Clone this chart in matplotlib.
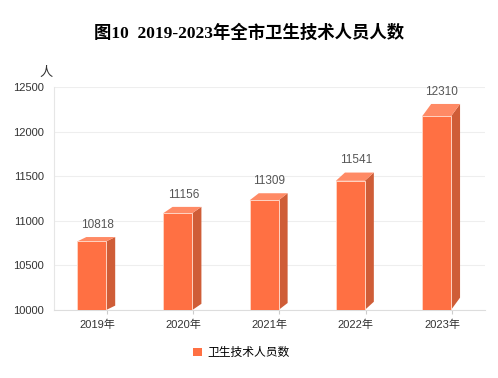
import matplotlib
matplotlib.use("Agg")
import matplotlib.pyplot as plt
from matplotlib.patches import Polygon, Patch

plt.rcParams['font.family'] = ['Liberation Sans', 'Noto Sans CJK SC']

# 数据
years = ['2019年', '2020年', '2021年', '2022年', '2023年']
staff = [10818, 11156, 11309, 11541, 12310]
title = '图10  2019-2023年全市卫生技术人员人数'
series_name = '卫生技术人员数'
yticks = [10000, 10500, 11000, 11500, 12000, 12500]

# 颜色
c_front = '#ff7043'
c_top = '#ff8a65'
c_side = '#cf5d37'

fig = plt.figure(figsize=(4.98, 3.78), dpi=100)
ax = fig.add_axes([0.1084, 0.1799, 0.8656, 0.5899])

ymin, ymax = 10000, 12500
x_left, x_right = -0.23, 0.105   # 正面相对类目中心
dx = 0.105                        # 侧面深度
for i, v in enumerate(staff):
    dy = 0.06 * (v - ymin)        # 顶面深度
    xl, xr = i + x_left, i + x_right
    vf = v - dy
    # 侧面
    ax.add_patch(Polygon([(xr, ymin), (xr, vf), (xr + dx, v), (xr + dx, ymin + dy)],
                         closed=True, facecolor=c_side, edgecolor='none', zorder=3))
    # 顶面
    ax.add_patch(Polygon([(xl, vf), (xr, vf), (xr + dx, v), (xl + dx, v)],
                         closed=True, facecolor=c_top, edgecolor='none', zorder=3))
    # 正面
    ax.add_patch(Polygon([(xl, ymin), (xl, vf), (xr, vf), (xr, ymin)],
                         closed=True, facecolor=c_front, edgecolor='#ffd3c2',
                         linewidth=0.7, zorder=4))
    ax.text(i, v + 70, str(v), ha='center', va='bottom', fontsize=8.5,
            color='#555555', zorder=5)

ax.set_xlim(-0.5, len(years) - 0.5)
ax.set_ylim(ymin, ymax)
ax.set_yticks(yticks)
ax.set_yticklabels([str(t) for t in yticks], fontsize=8, color='#333333')
ax.set_xticks(range(len(years)))
ax.set_xticklabels(years, fontsize=8, color='#333333')
ax.tick_params(axis='y', length=0, pad=7)
ax.tick_params(axis='x', length=0, pad=7)
ax.set_xticks([i + 0.115 for i in range(len(years))], minor=True)
ax.tick_params(axis='x', which='minor', length=3, color='#cccccc', width=0.8)

ax.grid(axis='y', color='#eeeeee', linewidth=0.8, zorder=0)
ax.set_axisbelow(True)
for s in ['top', 'right']:
    ax.spines[s].set_visible(False)
ax.spines['left'].set_color('#e6e6e6')
ax.spines['left'].set_linewidth(0.8)
ax.spines['bottom'].set_color('#dddddd')
ax.spines['bottom'].set_linewidth(0.8)

ax.text(-0.018, 1.035, '人', transform=ax.transAxes, fontsize=9.5, color='#333333',
        ha='center', va='bottom')

fig.text(0.5, 0.913, title, ha='center', va='center', fontsize=12.5,
         fontweight='bold', family=['Liberation Serif', 'Noto Sans CJK SC'])

handle = Patch(facecolor=c_front, edgecolor='none')
fig.legend([handle], [series_name], loc='center', bbox_to_anchor=(0.485, 0.066),
           frameon=False, fontsize=8.5, handlelength=0.7, handleheight=0.7,
           handletextpad=0.5)

fig.savefig('out.png', dpi=100)
